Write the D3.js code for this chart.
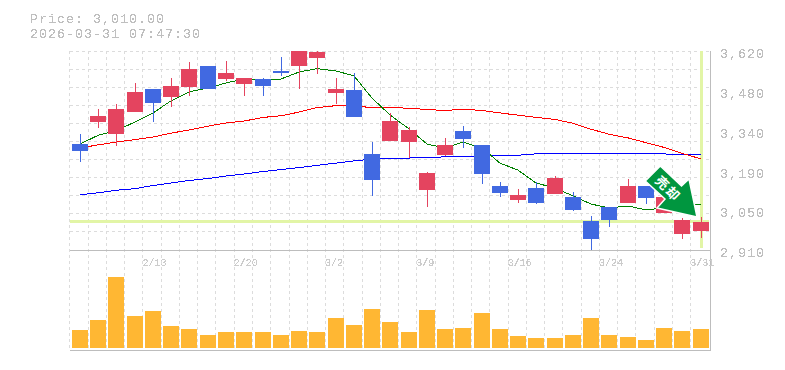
<!DOCTYPE html>
<html>
<head>
<meta charset="utf-8">
<script src="https://cdn.jsdelivr.net/npm/d3@7"></script>
<style>
  html, body { margin: 0; background: #fff; }
  svg { display: block; }
  text { font-family: "Liberation Mono", monospace; }
</style>
</head>
<body>
<div id="chart"></div>
<script>
const dates = ['2/6','2/9','2/10','2/12','2/13','2/16','2/17','2/18','2/19','2/20','2/24','2/25','2/26','2/27','3/2','3/3','3/4','3/5','3/6','3/9','3/10','3/11','3/12','3/13','3/16','3/17','3/18','3/19','3/23','3/24','3/25','3/26','3/27','3/30','3/31'];
const dateLabels = ['2/13','2/20','3/2','3/9','3/16','3/24','3/31'];

const opens  = [3288,3367,3324,3402,3484,3456,3492,3567,3520,3502,3520,3549,3567,3595,3470,3481,3252,3299,3295,3124,3249,3335,3285,3138,3088,3131,3110,3099,3013,3063,3078,3138,3042,2967,2978];
const highs  = [3324,3413,3431,3506,3484,3524,3581,3567,3584,3524,3524,3599,3620,3620,3524,3542,3295,3399,3349,3188,3310,3352,3285,3153,3128,3153,3174,3117,3031,3063,3163,3138,3099,3024,3028];
const lows   = [3224,3345,3281,3402,3367,3420,3460,3484,3513,3460,3460,3531,3484,3538,3431,3385,3103,3299,3238,3063,3245,3274,3145,3099,3078,3074,3110,3049,2910,2992,3078,3074,3042,2949,2953];
const closes = [3263,3388,3413,3474,3435,3495,3556,3484,3542,3524,3495,3542,3620,3616,3484,3385,3160,3370,3338,3185,3285,3306,3181,3113,3106,3078,3167,3053,2949,3017,3138,3096,3099,3017,3010];

const volumes = [18,28,71,32,37,22,19,13,16,16,16,13,17,16,30,23,39,26,16,38,19,20,35,19,12,10,10,13,30,13,11,8,20,17,19];

const maShort = [3288,3319,3335,3367,3399,3442,3474,3488,3506,3520,3520,3520,3545,3557,3549,3531,3452,3392,3342,3288,3274,3295,3274,3220,3195,3149,3131,3103,3074,3060,3067,3053,3060,3071,3074];
const maMid   = [3274,3285,3295,3304,3313,3327,3338,3352,3363,3370,3383,3389,3402,3418,3425,3424,3418,3418,3416,3411,3408,3412,3408,3399,3391,3383,3376,3362,3341,3323,3310,3293,3276,3255,3235];
const maLong  = [3107,3114,3123,3129,3140,3149,3158,3165,3174,3181,3190,3197,3204,3212,3220,3228,3234,3236,3238,3241,3242,3244,3245,3247,3248,3253,3253,3253,3253,3253,3253,3253,3253,3249,3249];

const priceTicks = [3620,3478,3336,3194,3052,2910];
const lastPrice = 3010;
const priceTitle = 'Price: 3,010.00';
const timeTitle = '2026-03-31 07:47:30';
const signalLabel = '売却';

const width = 785, height = 370;
const plotLeft = 69.9, plotRight = 709, plotTop = 51, priceBottom = 250, volBottom = 348, frameBottom = 350;
const gridRows = 11;

const UP = '#e4445f', DOWN = '#4169e1', GRID = '#dcdcdc', FRAME = '#bdbdbd', TEXT = '#bfbfbf', HILITE = '#e2f5a6';

const x = d3.scaleBand().domain(dates).range([plotLeft, plotRight]);
const y = d3.scaleLinear().domain([2910, 3620]).range([priceBottom, plotTop]);
const yVol = d3.scaleLinear().domain([0, 98]).range([volBottom, priceBottom]);
const yRow = d3.scaleLinear().domain([0, gridRows]).range([plotTop, priceBottom]);

const barLeft = i => Math.round(x(dates[i]) + 2);
const mid = i => barLeft(i) + 8;
const px = v => Math.floor(v) + 0.5;

const svg = d3.select('#chart').append('svg')
    .attr('width', width)
    .attr('height', height);

// hard edged text, the original has no antialiasing
const filter = svg.append('defs').append('filter')
    .attr('id', 'hard')
    .attr('color-interpolation-filters', 'sRGB');
filter.append('feComponentTransfer').append('feFuncA')
    .attr('type', 'discrete')
    .attr('tableValues', '0 0 1 1 1');

// Grid
const grid = svg.append('g')
    .attr('stroke', GRID)
    .attr('stroke-dasharray', '3,3')
    .attr('shape-rendering', 'crispEdges');

grid.selectAll('.v')
    .data(d3.range(dates.length))
    .enter().append('line')
    .attr('class', 'v')
    .attr('x1', i => px(x(dates[i])))
    .attr('x2', i => px(x(dates[i])))
    .attr('y1', plotTop)
    .attr('y2', frameBottom);

grid.selectAll('.h')
    .data(d3.range(gridRows))
    .enter().append('line')
    .attr('class', 'h')
    .attr('x1', plotLeft)
    .attr('x2', plotRight)
    .attr('y1', i => px(yRow(i)))
    .attr('y2', i => px(yRow(i)));

// Volume bars
svg.append('g').selectAll('rect')
    .data(volumes)
    .enter().append('rect')
    .attr('x', (d, i) => barLeft(i))
    .attr('y', d => yVol(d))
    .attr('width', 16)
    .attr('height', d => volBottom - yVol(d))
    .attr('fill', '#ffb733')
    .attr('shape-rendering', 'crispEdges');

// Frame
const frame = svg.append('g')
    .attr('stroke', FRAME)
    .attr('shape-rendering', 'crispEdges');
[priceBottom, frameBottom].forEach(v => {
    frame.append('line')
        .attr('x1', plotLeft).attr('x2', plotRight + 1)
        .attr('y1', v + 0.5).attr('y2', v + 0.5);
});
frame.append('line')
    .attr('x1', plotRight + 1.5).attr('x2', plotRight + 1.5)
    .attr('y1', plotTop).attr('y2', frameBottom + 1);

// Last price and last date highlight
svg.append('rect')
    .attr('x', plotLeft)
    .attr('y', Math.round(y(lastPrice)) - 2)
    .attr('width', plotRight - plotLeft)
    .attr('height', 3)
    .attr('fill', HILITE);
svg.append('rect')
    .attr('x', mid(dates.length - 1) - 1)
    .attr('y', plotTop)
    .attr('width', 3)
    .attr('height', priceBottom - plotTop - 2)
    .attr('fill', HILITE);

// Moving averages
const line = d3.line().x((d, i) => mid(i)).y(d => y(d));
[[maLong, '#0000ff'], [maMid, '#ff0000'], [maShort, '#008000']].forEach(([values, color]) => {
    svg.append('path')
        .attr('d', line(values))
        .attr('fill', 'none')
        .attr('stroke', color)
        .attr('stroke-width', 1)
        .attr('shape-rendering', 'crispEdges');
});

// Candles
const candles = svg.append('g').attr('shape-rendering', 'crispEdges');
const candleColor = i => closes[i] >= opens[i] ? UP : DOWN;

candles.selectAll('.wick')
    .data(d3.range(dates.length))
    .enter().append('rect')
    .attr('class', 'wick')
    .attr('x', i => mid(i))
    .attr('y', i => y(highs[i]))
    .attr('width', 1)
    .attr('height', i => y(lows[i]) - y(highs[i]))
    .attr('fill', candleColor);

candles.selectAll('.body')
    .data(d3.range(dates.length))
    .enter().append('rect')
    .attr('class', 'body')
    .attr('x', i => barLeft(i))
    .attr('y', i => y(Math.max(opens[i], closes[i])))
    .attr('width', 16)
    .attr('height', i => Math.abs(y(opens[i]) - y(closes[i])))
    .attr('fill', candleColor);

// Price axis
const axis = d3.axisRight(y)
    .tickValues(priceTicks)
    .tickSize(0)
    .tickPadding(0)
    .tickFormat(d => d3.format(',')(Math.round(d / 10) * 10));

svg.append('g')
    .attr('transform', 'translate(720,0)')
    .attr('filter', 'url(#hard)')
    .call(axis)
    .call(g => g.select('.domain').remove())
    .call(g => g.selectAll('text')
        .attr('fill', TEXT)
        .attr('dy', '0.5em')
        .style('font-family', '"Liberation Mono", monospace')
        .style('font-size', '13.5px')
        .style('letter-spacing', '0.9px'));

// Date labels
svg.append('g')
    .attr('filter', 'url(#hard)')
    .selectAll('text')
    .data(dateLabels)
    .enter().append('text')
    .attr('x', d => x(d) - 0.5)
    .attr('y', 266)
    .attr('fill', '#cccccc')
    .style('font-size', '10px')
    .text(d => d);

// Title
const title = svg.append('g')
    .attr('filter', 'url(#hard)')
    .attr('fill', TEXT)
    .style('font-size', '13.5px')
    .style('letter-spacing', '0.9px');
title.append('text').attr('x', 30).attr('y', 22.5).text(priceTitle);
title.append('text').attr('x', 30).attr('y', 38).text(timeTitle);

// Sell signal on the last bar
const signal = svg.append('g')
    .attr('transform', `translate(${mid(dates.length - 1)},${y(lastPrice)})`);
signal.append('polygon')
    .attr('points', '-40.7,-56 -19.5,-36 -12,-43 -4,-5 -44,-14 -36,-23 -55.7,-41')
    .attr('fill', '#00963f')
    .attr('stroke', '#fff')
    .attr('stroke-width', 1.5)
    .attr('stroke-linejoin', 'miter');
signal.append('text')
    .attr('transform', 'translate(-33,-33) rotate(45)')
    .attr('text-anchor', 'middle')
    .attr('dy', '0.35em')
    .attr('fill', '#fff')
    .style('font-family', '"Noto Sans CJK JP", sans-serif')
    .style('font-weight', 700)
    .style('font-size', '13px')
    .style('letter-spacing', '2px')
    .text(signalLabel);
</script>
</body>
</html>
